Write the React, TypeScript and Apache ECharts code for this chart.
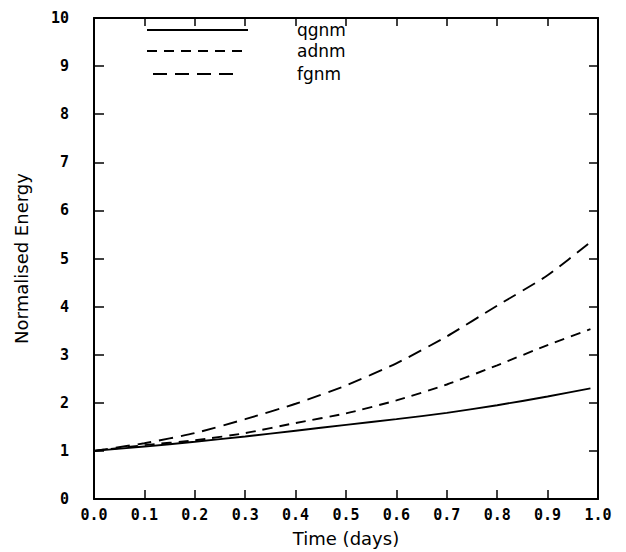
import React, { useEffect, useRef } from "react";
import * as echarts from "echarts";

const times = [0, 0.1, 0.2, 0.3, 0.4, 0.5, 0.6, 0.7, 0.8, 0.9, 0.985];
const qgnm = [1.0, 1.09, 1.19, 1.3, 1.42, 1.54, 1.66, 1.79, 1.95, 2.13, 2.3];
const adnm = [1.0, 1.12, 1.22, 1.37, 1.58, 1.78, 2.05, 2.38, 2.78, 3.2, 3.53];
const fgnm = [1.0, 1.16, 1.37, 1.66, 1.98, 2.36, 2.82, 3.38, 4.02, 4.65, 5.34];
const seriesNames = ["qgnm", "adnm", "fgnm"];
const xAxisTitle = "Time (days)";
const yAxisTitle = "Normalised Energy";

const dashes: (number[] | null)[] = [null, [10, 7], [14, 8]];

export default function App() {
  const ref = useRef<HTMLDivElement>(null);
  useEffect(() => {
    if (!ref.current) return;
    const chart = echarts.init(ref.current, null, { renderer: "svg" });
    const values = [qgnm, adnm, fgnm];
    const tickFont = {
      fontFamily: "DejaVu Sans Mono",
      fontWeight: "bold" as const,
      fontSize: 15,
      color: "#000",
    };
    const legendY = [30, 51, 74];
    const legendX0 = [147, 147, 153];
    const legendX1 = [248, 248, 240];
    const graphic: any[] = [];
    seriesNames.forEach((n, i) => {
      graphic.push({
        type: "line",
        shape: { x1: legendX0[i], y1: legendY[i], x2: legendX1[i], y2: legendY[i] },
        style: {
          stroke: "#000",
          lineWidth: 1.8,
          lineDash: dashes[i] || undefined,
        },
      });
      graphic.push({
        type: "text",
        x: 297,
        y: legendY[i],
        style: {
          text: n,
          fill: "#000",
          font: "17px 'DejaVu Sans'",
          textVerticalAlign: "middle",
          verticalAlign: "middle",
        },
      });
    });
    chart.setOption({
      animation: false,
      backgroundColor: "#fff",
      grid: { left: 94, right: 28, top: 18, bottom: 47, containLabel: false },
      xAxis: [
        {
          type: "value",
          min: 0,
          max: 1,
          interval: 0.1,
          position: "bottom",
          name: xAxisTitle,
          nameLocation: "middle",
          nameGap: 30,
          nameTextStyle: { fontFamily: "DejaVu Sans", fontSize: 18, color: "#000" },
          axisLine: { show: true, onZero: false, lineStyle: { color: "#000", width: 2 } },
          axisTick: { show: true, inside: true, length: 9, lineStyle: { color: "#000", width: 1.5 } },
          axisLabel: {
            ...tickFont,
            margin: 8,
            formatter: (v: number) => v.toFixed(1),
          },
          splitLine: { show: false },
        },
        {
          type: "value",
          min: 0,
          max: 1,
          interval: 0.1,
          position: "top",
          axisLine: { show: true, onZero: false, lineStyle: { color: "#000", width: 2 } },
          axisTick: { show: true, inside: true, length: 8, lineStyle: { color: "#000", width: 1.5 } },
          axisLabel: { show: false },
          splitLine: { show: false },
        },
      ],
      yAxis: [
        {
          type: "value",
          min: 0,
          max: 10,
          interval: 1,
          position: "left",
          name: yAxisTitle,
          nameLocation: "middle",
          nameGap: 64,
          nameRotate: 90,
          nameTextStyle: { fontFamily: "DejaVu Sans", fontSize: 18, color: "#000" },
          axisLine: { show: true, onZero: false, lineStyle: { color: "#000", width: 2 } },
          axisTick: { show: true, inside: true, length: 10, lineStyle: { color: "#000", width: 1.5 } },
          axisLabel: { ...tickFont, margin: 25 },
          splitLine: { show: false },
        },
        {
          type: "value",
          min: 0,
          max: 10,
          interval: 1,
          position: "right",
          axisLine: { show: true, onZero: false, lineStyle: { color: "#000", width: 2 } },
          axisTick: { show: true, inside: true, length: 9, lineStyle: { color: "#000", width: 1.5 } },
          axisLabel: { show: false },
          splitLine: { show: false },
        },
      ],
      series: seriesNames.map((n, i) => ({
        name: n,
        type: "line",
        xAxisIndex: 0,
        yAxisIndex: 0,
        data: times.map((t, j) => [t, values[i][j]]),
        showSymbol: false,
        smooth: 0.2,
        lineStyle: {
          color: "#000",
          width: 1.9,
          type: dashes[i] ? dashes[i] : "solid",
        },
      })),
      graphic,
    });
    return () => chart.dispose();
  }, []);
  return (
    <div
      ref={ref}
      style={{ position: "fixed", left: 0, top: 0, width: 626, height: 552 }}
    />
  );
}
